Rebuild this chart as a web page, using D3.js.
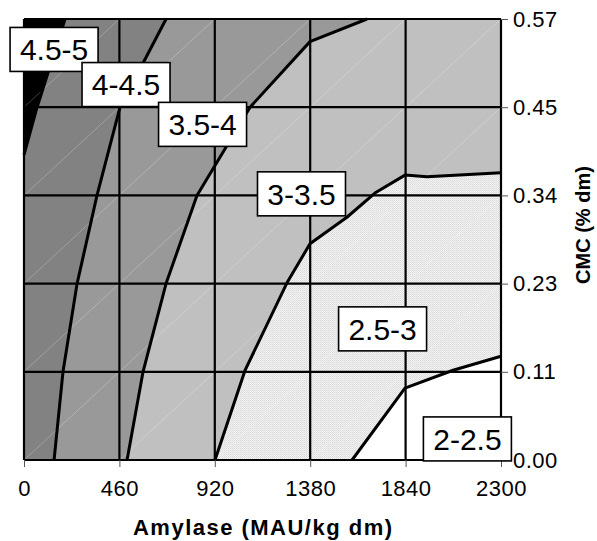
<!DOCTYPE html>
<html>

<head>
    <title>Amylase / CMC contour</title>
    <style>
        body {
            margin: 0;
            background-color: white;
        }

        text {
            font-family: Arial, "Liberation Sans", sans-serif;
            fill: #000;
        }

        .grid line {
            stroke: #000;
            stroke-width: 2.2px;
        }

        .contour {
            fill: none;
            stroke: #000;
            stroke-width: 3px;
            stroke-linejoin: round;
        }

        .tick-label {
            font-size: 22px;
            letter-spacing: 0.5px;
        }

        .axis-title {
            font-size: 22px;
            font-weight: bold;
        }

        .zone-label rect {
            fill: #fff;
            stroke: #000;
            stroke-width: 1.6px;
        }

        .zone-label text {
            font-size: 30px;
            text-anchor: middle;
        }
    </style>
    <script src="https://d3js.org/d3.v7.min.js"></script>
</head>

<body>
<svg id="chart" width="597" height="541"></svg>
<script>

    // axis ticks
    var amylaseTicks = [0, 460, 920, 1380, 1840, 2300];
    var cmcTicks = [0, 0.113, 0.226, 0.339, 0.452, 0.565];
    var cmcTickLabels = ["0.00", "0.11", "0.23", "0.34", "0.45", "0.57"];

    // zones, from highest to lowest
    var zoneNames = ["4.5-5", "4-4.5", "3.5-4", "3-3.5", "2.5-3", "2-2.5"];
    var zoneColors = ["#000000", "#828282", "#999999", "#c0c0c0", "url(#dots)", "#ffffff"];

    // contour lines between zones, [amylase, cmc]
    var line45 = [[198, 0.565], [63, 0.452], [0, 0.391]];
    var line40 = [[685, 0.565], [463, 0.452], [352, 0.339], [256, 0.226], [188, 0.113], [145, 0]];
    var line35 = [[1654, 0.565], [1379, 0.536], [1090, 0.452], [834, 0.339], [685, 0.226], [574, 0.113], [497, 0]];
    var line30 = [[921, 0], [1066, 0.115], [1268, 0.227], [1379, 0.277], [1557, 0.311], [1692, 0.342], [1837, 0.365], [1943, 0.363], [2300, 0.368]];
    var line25 = [[1582, 0], [1837, 0.092], [2069, 0.115], [2300, 0.133]];

    // where the zone names sit, [amylase, cmc]
    var labelSpots = [[145, 0.526], [492, 0.481], [861, 0.430], [1338, 0.341], [1729, 0.168], [2138, 0.027]];

    var svg = d3.select("#chart");
    var margin = {top: 19, right: 96, bottom: 81, left: 24};
    var width = 597 - margin.left - margin.right,
        height = 541 - margin.top - margin.bottom;

    var x = d3.scaleLinear().domain([0, 2300]).range([margin.left, margin.left + width]);
    var y = d3.scaleLinear().domain([0, 0.565]).range([margin.top + height, margin.top]);

    // dotted fill for the 2.5-3 zone
    var defs = svg.append("defs");
    var pat = defs.append("pattern")
        .attr("id", "dots")
        .attr("width", 2).attr("height", 2)
        .attr("patternUnits", "userSpaceOnUse");
    pat.append("rect").attr("width", 2).attr("height", 2).attr("fill", "#f2f2f2");
    pat.append("rect").attr("width", 1).attr("height", 1).attr("fill", "#dadada");
    pat.append("rect").attr("x", 1).attr("y", 1).attr("width", 1).attr("height", 1).attr("fill", "#e2e2e2");

    var xMax = 2300, yMax = 0.565;
    var line = d3.line().x(d => x(d[0])).y(d => y(d[1]));

    // each zone is painted over the one before it, corners close the shape on the low side
    var zoneShapes = [
        [[0, 0], [0, yMax], [xMax, yMax], [xMax, 0]],
        line45.concat([[0, 0], [xMax, 0], [xMax, yMax]]),
        line40.concat([[xMax, 0], [xMax, yMax]]),
        line35.concat([[xMax, 0], [xMax, yMax]]),
        line30.concat([[xMax, 0]]),
        line25.concat([[xMax, 0]])
    ];

    svg.append("g").selectAll("path")
        .data(zoneShapes)
        .join("path")
        .attr("d", d => line(d) + "Z")
        .attr("fill", (d, i) => zoneColors[i]);

    // faint seams across every cell, like the original render
    var seams = [];
    for (var i = 0; i < amylaseTicks.length - 1; i++) {
        for (var j = 0; j < cmcTicks.length - 1; j++) {
            seams.push([amylaseTicks[i], cmcTicks[j], amylaseTicks[i + 1], cmcTicks[j + 1]]);
        }
    }
    svg.append("g").selectAll("line")
        .data(seams)
        .join("line")
        .attr("x1", d => x(d[0])).attr("y1", d => y(d[1]))
        .attr("x2", d => x(d[2])).attr("y2", d => y(d[3]))
        .attr("stroke", "#fff")
        .attr("stroke-opacity", 0.3)
        .attr("stroke-width", 0.8);

    // contour lines
    svg.append("g").selectAll("path")
        .data([line45, line40, line35, line30, line25])
        .join("path")
        .attr("class", "contour")
        .attr("d", line);

    // grid
    var grid = svg.append("g").attr("class", "grid");
    grid.selectAll(".vx")
        .data(amylaseTicks)
        .join("line")
        .attr("class", "vx")
        .attr("x1", d => x(d)).attr("x2", d => x(d))
        .attr("y1", y(0)).attr("y2", y(yMax));
    grid.selectAll(".hy")
        .data(cmcTicks)
        .join("line")
        .attr("class", "hy")
        .attr("x1", x(0)).attr("x2", x(xMax))
        .attr("y1", d => y(d)).attr("y2", d => y(d));

    // x axis at the bottom
    var xAxis = d3.axisBottom(x).tickValues(amylaseTicks).tickSize(7).tickPadding(13)
        .tickFormat(d3.format("d"));
    var gx = svg.append("g")
        .attr("transform", "translate(0," + y(0) + ")")
        .call(xAxis);
    gx.select(".domain").remove();
    gx.selectAll(".tick line").attr("stroke", "#555").attr("stroke-width", 1);
    gx.selectAll(".tick text")
        .attr("class", "tick-label")
        .attr("font-family", null).attr("font-size", null)
        .attr("dy", "0.71em");

    // y axis on the right
    var yAxis = d3.axisRight(y).tickValues(cmcTicks).tickSize(7).tickPadding(5)
        .tickFormat((d, i) => cmcTickLabels[i]);
    var gy = svg.append("g")
        .attr("transform", "translate(" + x(xMax) + ",0)")
        .call(yAxis);
    gy.select(".domain").remove();
    gy.selectAll(".tick line").attr("stroke", "#555").attr("stroke-width", 1);
    gy.selectAll(".tick text")
        .attr("class", "tick-label")
        .attr("font-family", null).attr("font-size", null);

    // zone name boxes
    var labels = svg.append("g").selectAll("g")
        .data(zoneNames)
        .join("g")
        .attr("class", "zone-label")
        .attr("transform", (d, i) => "translate(" + x(labelSpots[i][0]) + "," + y(labelSpots[i][1]) + ")");
    labels.append("rect")
        .attr("x", -44).attr("y", -22)
        .attr("width", 88).attr("height", 44);
    labels.append("text")
        .attr("dy", "0.36em")
        .text(d => d);

    // axis titles
    svg.append("text")
        .attr("class", "axis-title")
        .attr("x", margin.left + width / 2)
        .attr("y", 535)
        .attr("text-anchor", "middle")
        .attr("textLength", 259)
        .attr("lengthAdjust", "spacing")
        .text("Amylase (MAU/kg dm)");

    svg.append("text")
        .attr("class", "axis-title")
        .attr("transform", "translate(590," + y(0.301) + ") rotate(-90)")
        .attr("text-anchor", "middle")
        .style("font-size", "20px")
        .text("CMC (% dm)");

</script>
</body>

</html>
